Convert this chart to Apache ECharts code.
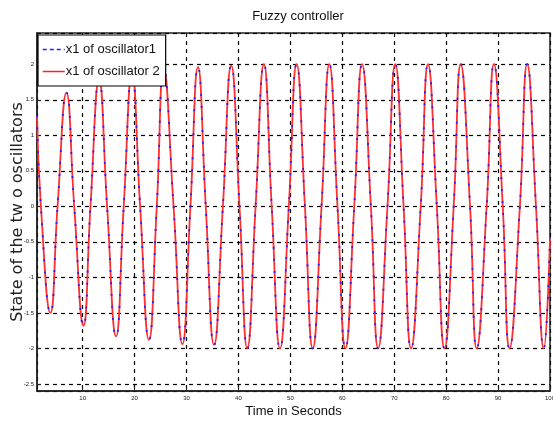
<!DOCTYPE html>
<html>
<head>
<meta charset="utf-8">
<script src="https://cdn.jsdelivr.net/npm/echarts@6/dist/echarts.min.js"></script>
<style>html,body{margin:0;padding:0;background:#fff;}#c{width:553px;height:423px;}</style>
</head>
<body>
<div id="c"></div>
<script>
// time samples (s): extrema and zero crossings
const times = [1.2, 1.95, 3.79, 5.16, 6.87, 8.37, 10.15, 11.5, 13.15, 14.7, 16.42, 17.9, 19.5, 21.06, 22.76, 24.27, 25.6, 27.5, 29.2, 30.75, 32.2, 33.7, 35.3, 37.0, 38.6, 40.2, 41.7, 43.3, 44.9, 46.4, 48.0, 49.7, 51.2, 52.8, 54.3, 56.0, 57.5, 59.07, 60.6, 62.3, 63.8, 65.5, 66.9, 68.7, 70.2, 71.8, 73.24, 75.1, 76.5, 78.2, 79.67, 81.45, 82.8, 84.6, 85.88, 87.8, 89.2, 90.9, 92.2, 94.2, 95.6, 97.3, 98.8, 100];
const osc1 = [1.28, 0, -1.5, 0, 1.6, 0, -1.68, 0, 1.78, 0, -1.83, 0, 1.87, 0, -1.88, 0, 1.93, 0, -1.94, 0, 1.96, 0, -1.95, 0, 1.98, 0, -2.0, 0, 2.0, 0, -2.0, 0, 2.0, 0, -2.0, 0, 2.0, 0, -2.0, 0, 2.0, 0, -2.0, 0, 2.0, 0, -2.0, 0, 2.0, 0, -2.0, 0, 2.0, 0, -2.0, 0, 2.0, 0, -2.0, 0, 2.0, 0, -2.0, -0.45];
const osc2 = [1.28, 0, -1.5, 0, 1.6, 0, -1.68, 0, 1.78, 0, -1.83, 0, 1.87, 0, -1.88, 0, 1.93, 0, -1.94, 0, 1.96, 0, -1.95, 0, 1.98, 0, -2.0, 0, 2.0, 0, -2.0, 0, 2.0, 0, -2.0, 0, 2.0, 0, -2.0, 0, 2.0, 0, -2.0, 0, 2.0, 0, -2.0, 0, 2.0, 0, -2.0, 0, 2.0, 0, -2.0, 0, 2.0, 0, -2.0, 0, 2.0, 0, -2.0, -0.45];
const seriesNames = ['x1 of oscillator1', 'x1 of oscillator 2'];
const titleText = 'Fuzzy controller';
const xName = 'Time in Seconds';
const yName = 'State of the tw o oscillators';

const chart = echarts.init(document.getElementById('c'), null, {renderer: 'canvas'});
const gridLine = {show: true, lineStyle: {color: '#000', width: 1.2, type: [4, 4]}};
const font = 'Liberation Sans, Arial, sans-serif';
const hiddenIcon = {color: 'rgba(0,0,0,0)', borderColor: 'rgba(0,0,0,0)', borderWidth: 0};
chart.setOption({
  animation: false,
  backgroundColor: '#fff',
  title: {text: titleText, left: 293, textAlign: 'center', top: 5,
    textStyle: {fontSize: 13, fontWeight: 'normal', color: '#111', fontFamily: font}},
  grid: {left: 37, right: 3, top: 33, bottom: 32, show: true, borderColor: '#222', borderWidth: 1.5,
    backgroundColor: 'transparent', containLabel: false, outerBoundsMode: 'none'},
  legend: {
    orient: 'vertical', left: 38, top: 35, padding: [8, 6, 8, 4], itemGap: 9,
    itemWidth: 22, itemHeight: 14, backgroundColor: '#fff', borderColor: '#000', borderWidth: 1.2,
    textStyle: {fontSize: 13, color: '#111', fontFamily: font, padding: [0, 0, 0, -4]},
    data: [
      {name: seriesNames[0], itemStyle: hiddenIcon, lineStyle: {type: [4, 3], width: 1.5, color: '#2020ff'}},
      {name: seriesNames[1], itemStyle: hiddenIcon, lineStyle: {type: 'solid', width: 1.5, color: '#ff2020'}}
    ]
  },
  xAxis: {
    type: 'value', min: 1.2, max: 100, splitNumber: 10,
    name: xName, nameLocation: 'middle', nameGap: 14, nameMoveOverlap: false,
    nameTextStyle: {fontSize: 13, color: '#111', fontFamily: font},
    axisLine: {show: true, onZero: false, lineStyle: {color: '#222', width: 1.5}},
    axisTick: {show: true, inside: true, length: 4, lineStyle: {color: '#222'}},
    axisLabel: {fontSize: 6, color: '#222', margin: 4, showMinLabel: false, fontFamily: font},
    splitLine: gridLine
  },
  yAxis: {
    type: 'value', min: -2.6, max: 2.44, splitNumber: 10,
    name: yName, nameLocation: 'middle', nameGap: 11, nameRotate: 90, nameMoveOverlap: false,
    nameTextStyle: {fontSize: 16, color: '#222', fontFamily: "'DejaVu Sans'"},
    axisLine: {show: true, onZero: false, lineStyle: {color: '#222', width: 1.5}},
    axisTick: {show: true, inside: true, length: 4, lineStyle: {color: '#222'}},
    axisLabel: {fontSize: 6, color: '#222', margin: 3, showMinLabel: false, showMaxLabel: false, fontFamily: font},
    splitLine: gridLine
  },
  series: [
    {name: seriesNames[1], type: 'line', data: times.map((t, i) => [t, osc2[i]]), symbol: 'none', smooth: 0.5,
      lineStyle: {color: '#ff3030', width: 1.8}, itemStyle: {color: '#ff3030'}, z: 2},
    {name: seriesNames[0], type: 'line', data: times.map((t, i) => [t, osc1[i]]), symbol: 'none', smooth: 0.5,
      lineStyle: {color: '#2020ff', width: 1.8, type: [2, 10]}, itemStyle: {color: '#2020ff'}, z: 3}
  ]
});
</script>
</body>
</html>
